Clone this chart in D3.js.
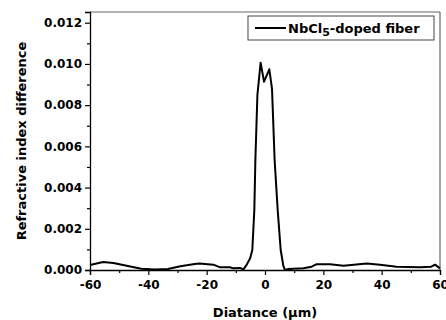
<!DOCTYPE html>
<html>
<head>
<meta charset="utf-8">
<script src="https://cdn.jsdelivr.net/npm/d3@7"></script>
<style>
  body { margin: 0; background: #fff; }
  text { font-family: "DejaVu Sans", "Liberation Sans", Arial, sans-serif; font-weight: bold; }
</style>
</head>
<body>
<div id="chart"></div>
<script>
// profile: position (um) and index difference
var xs = [-60, -55.5, -52, -47, -42.4, -37.8, -33.3, -29, -24.1, -22.5, -17.7, -15.4, -12, -10.9, -8.6, -7.4, -6.3, -5.1, -4.35, -3.66, -3.3, -2.6, -1.5, -0.34, 1.48, 2.4, 3.3, 4.35, 5.38, 6.29, 6.86, 8.0, 13.1, 16, 17.7, 22.3, 26.9, 34.9, 39.4, 45.1, 53.1, 57, 58.3, 60];
var ys = [0.00024, 0.00039, 0.00034, 0.00019, 0.00006, 0.00003, 0.00005, 0.00018, 0.00029, 0.00032, 0.00026, 0.00013, 0.00013, 0.00008, 0.0001, 0.00003, 0.00025, 0.00057, 0.00097, 0.00291, 0.00534, 0.0085, 0.01006, 0.00914, 0.00974, 0.0088, 0.00534, 0.00291, 0.00097, 0.0002, 0, 0.00005, 0.00008, 0.00016, 0.00028, 0.00028, 0.00021, 0.00031, 0.00026, 0.00016, 0.00013, 0.00016, 0.00026, 0.00008];
var xTicks = [-60, -40, -20, 0, 20, 40, 60];
var yTicks = [0, 0.002, 0.004, 0.006, 0.008, 0.010, 0.012];
var seriesName = "NbCl";

var width = 446, height = 320;
var margin = {left: 90, right: 6, top: 12, bottom: 50};

var svg = d3.select("#chart").append("svg")
  .attr("width", width)
  .attr("height", height);

var x = d3.scaleLinear().domain([-60, 60]).range([margin.left, width - margin.right]);
var y = d3.scaleLinear().domain([0, 0.01252]).range([height - margin.bottom, margin.top]);

// frame: top and right in gray
svg.append("line")
  .attr("x1", x(-60)).attr("x2", x(60))
  .attr("y1", y.range()[1]).attr("y2", y.range()[1])
  .attr("stroke", "#666").attr("stroke-width", 1.2);
svg.append("line")
  .attr("x1", x(60)).attr("x2", x(60))
  .attr("y1", y.range()[0]).attr("y2", y.range()[1])
  .attr("stroke", "#666").attr("stroke-width", 1.2);

// minor ticks
var xMinor = d3.range(-50, 60, 20);
var yMinor = d3.range(0.001, 0.0125, 0.002);

var xAxis = svg.append("g")
  .attr("transform", "translate(0," + y(0) + ")")
  .call(d3.axisBottom(x).tickValues(xTicks).tickSize(5).tickPadding(3)
    .tickFormat(function(d) { return String(d); }));
svg.append("g")
  .attr("transform", "translate(0," + y(0) + ")")
  .call(d3.axisBottom(x).tickValues(xMinor).tickSize(3).tickFormat(""))
  .select(".domain").remove();

var yAxis = svg.append("g")
  .attr("transform", "translate(" + x(-60) + ",0)")
  .call(d3.axisLeft(y).tickValues(yTicks).tickSize(5).tickPadding(3).tickFormat(d3.format(".3f")));
svg.append("g")
  .attr("transform", "translate(" + x(-60) + ",0)")
  .call(d3.axisLeft(y).tickValues(yMinor).tickSize(3).tickFormat(""))
  .select(".domain").remove();

svg.selectAll(".domain").attr("stroke", "#000").attr("stroke-width", 1.3);
svg.selectAll(".tick line").attr("stroke", "#000").attr("stroke-width", 1.2);
svg.selectAll(".tick text")
  .attr("fill", "#000")
  .style("font-size", "12px")
  .style("font-family", "'DejaVu Sans', sans-serif")
  .style("font-weight", "bold");
xAxis.selectAll(".tick text").attr("dy", "0.9em");

// data line
var line = d3.line()
  .x(function(d, i) { return x(xs[i]); })
  .y(function(d, i) { return y(ys[i]); });

svg.append("path")
  .datum(xs)
  .attr("d", line)
  .attr("fill", "none")
  .attr("stroke", "#000")
  .attr("stroke-width", 2)
  .attr("stroke-linejoin", "round");

// legend
var legend = svg.append("g");
legend.append("rect")
  .attr("x", 248).attr("y", 16)
  .attr("width", 186).attr("height", 24)
  .attr("fill", "#fff")
  .attr("stroke", "#444").attr("stroke-width", 1);
legend.append("line")
  .attr("x1", 255).attr("x2", 286)
  .attr("y1", 28).attr("y2", 28)
  .attr("stroke", "#000").attr("stroke-width", 2);
var lt = legend.append("text")
  .attr("x", 288).attr("y", 33)
  .style("font-size", "13px");
lt.append("tspan").text(seriesName);
lt.append("tspan").attr("dy", 3).style("font-size", "11px").text("5");
lt.append("tspan").attr("dy", -3).text("-doped fiber");

// axis titles
svg.append("text")
  .attr("x", x(0)).attr("y", 317)
  .attr("text-anchor", "middle")
  .style("font-size", "13px")
  .text("Diatance (\u03bcm)");

svg.append("text")
  .attr("transform", "translate(26," + ((y(0) + y.range()[1]) / 2) + ") rotate(-90)")
  .attr("text-anchor", "middle")
  .style("font-size", "13px")
  .text("Refractive index difference");
</script>
</body>
</html>
